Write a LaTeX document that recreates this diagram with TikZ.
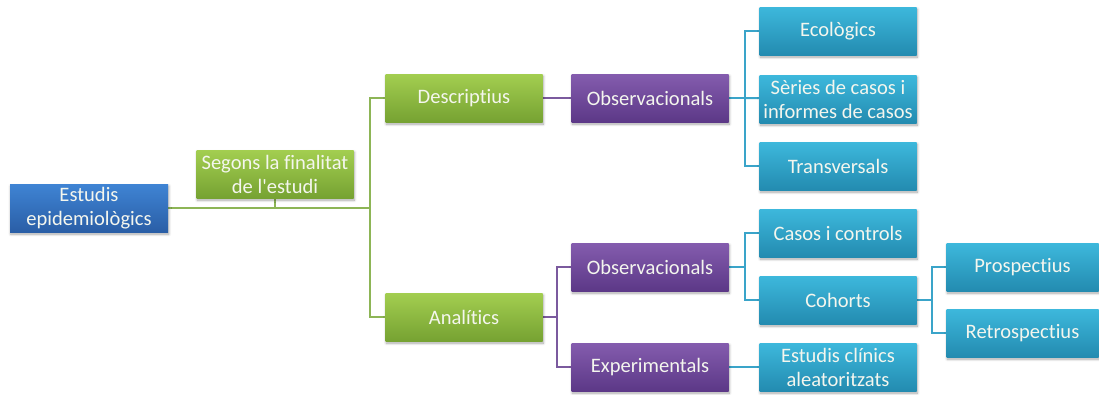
\documentclass[tikz,border=0pt]{standalone}
\usepackage{fontspec}
\setmainfont{Carlito}[Ligatures=NoCommon]
\usetikzlibrary{shadows.blur}

\definecolor{blueTop}{HTML}{3F84D4}
\definecolor{blueBot}{HTML}{2A5EA6}
\definecolor{greenTop}{HTML}{A3CE50}
\definecolor{greenBot}{HTML}{76A232}
\definecolor{purpleTop}{HTML}{845CAE}
\definecolor{purpleBot}{HTML}{5C3887}
\definecolor{cyanTop}{HTML}{3DB8DC}
\definecolor{cyanBot}{HTML}{238BB0}
\definecolor{greenLine}{HTML}{8DB556}
\definecolor{purpleLine}{HTML}{7B5A9E}
\definecolor{cyanLine}{HTML}{3AA4C9}
\definecolor{boxText}{HTML}{F4F6EE}

\tikzset{
  box/.style={rectangle, align=center, inner sep=1pt,
    minimum width=117.75pt, minimum height=36pt,
    text=boxText, font=\fontsize{15.4}{18}\selectfont,
    blur shadow={shadow xshift=0.6pt, shadow yshift=-1.6pt,
      shadow blur steps=6, shadow opacity=35}},
  bluebox/.style={box, top color=blueTop, bottom color=blueBot, minimum width=118.5pt},
  greenbox/.style={box, top color=greenTop, bottom color=greenBot},
  purplebox/.style={box, top color=purpleTop, bottom color=purpleBot},
  cyanbox/.style={box, top color=cyanTop, bottom color=cyanBot},
  gline/.style={draw=greenLine, line width=1.5pt},
  pline/.style={draw=purpleLine, line width=1.5pt},
  cline/.style={draw=cyanLine, line width=1.5pt}
}

\begin{document}
\begin{tikzpicture}[x=0.75pt, y=-0.75pt]
\useasboundingbox (0,0) rectangle (1099,394);

% branching points of the tree
\coordinate (jroot) at (370,208);
\coordinate (jdesc) at (745,98);
\coordinate (janal) at (557,317);
\coordinate (jobs)  at (745,267);
\coordinate (jcoh)  at (932,300);

% connectors (drawn first so the boxes sit on top)
\path[gline] (89,208) -- (jroot);
\path[gline] (275,175) -- (275,208);
\path[gline] (464,98) -| (jroot) |- (464,317);

\path[pline] (464,98) -- (650,98);
\path[pline] (464,317) -- (janal);
\path[pline] (650,267) -| (janal) |- (650,367);

\path[cline] (650,98) -- (jdesc);
\path[cline] (838,31) -| (jdesc) |- (838,166);
\path[cline] (jdesc) -- (838,99);
\path[cline] (650,267) -- (jobs);
\path[cline] (838,233) -| (jobs) |- (838,300);
\path[cline] (650,367) -- (838,367);
\path[cline] (838,300) -- (jcoh);
\path[cline] (1020,267) -| (jcoh) |- (1020,333);

% boxes
\node[bluebox]   (est)  at (89,208)  {Estudis\\epidemiològics};
\node[greenbox]  (seg)  at (275,174) {Segons la finalitat\\de l\textquotesingle estudi};
\node[greenbox]  (desc) at (464,98)  {Descriptius};
\node[greenbox]  (anal) at (464,317) {Analítics};
\node[purplebox] (obsA) at (650,98)  {Observacionals};
\node[purplebox] (obsB) at (650,267) {Observacionals};
\node[purplebox] (expe) at (650,367) {Experimentals};
\node[cyanbox]   (eco)  at (838,31)  {Ecològics};
\node[cyanbox]   (ser)  at (838,99)  {Sèries de casos i\\informes de casos};
\node[cyanbox]   (tra)  at (838,166) {Transversals};
\node[cyanbox]   (cas)  at (838,233) {Casos i controls};
\node[cyanbox]   (coh)  at (838,300) {Cohorts};
\node[cyanbox]   (cli)  at (838,367) {Estudis clínics\\aleatoritzats};
\node[cyanbox, minimum width=114pt] (pro) at (1022.5,267) {Prospectius};
\node[cyanbox, minimum width=114pt] (ret) at (1022.5,333) {Retrospectius};
\end{tikzpicture}
\end{document}
